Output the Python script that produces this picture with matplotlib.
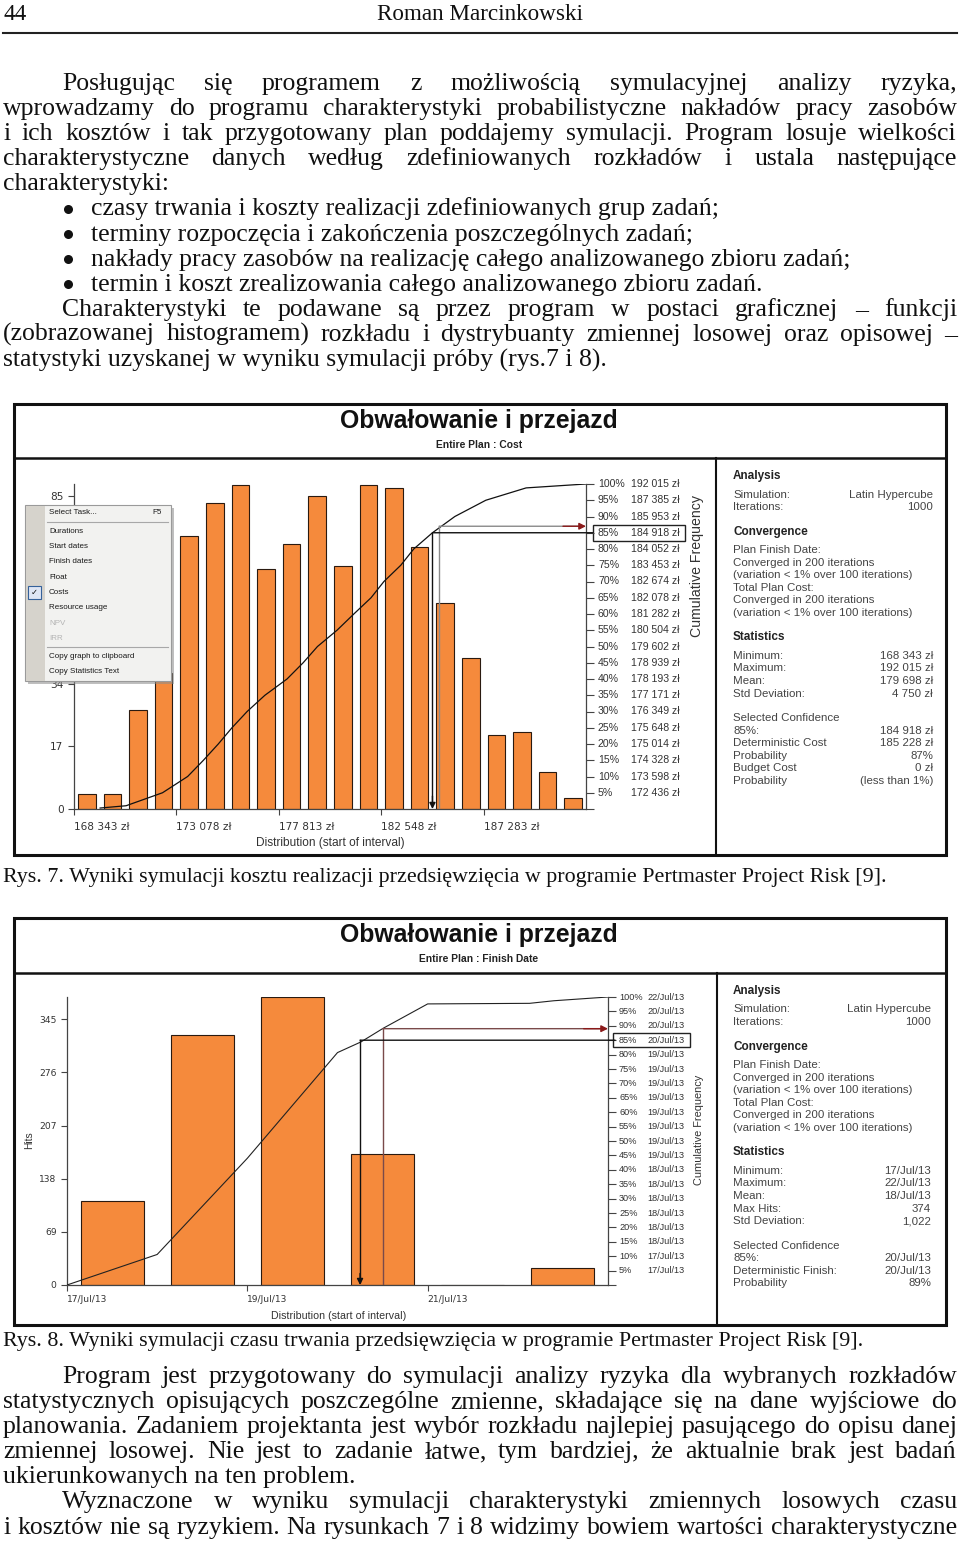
import numpy as np
import matplotlib
matplotlib.use("Agg")
import matplotlib.pyplot as plt
from matplotlib.patches import Rectangle
from matplotlib.transforms import blended_transform_factory

W, H = 960, 1542
SERIF = "Liberation Serif"
SANS = "Liberation Sans"
ORANGE = "#f58a3c"
INK = "#333333"

# ---------------- dane: rys. 7 (koszt) ----------------
cost_ticks = [168343, 173078, 177813, 182548, 187283]
cost_hits = [4, 4, 27, 37, 74, 83, 88, 65, 72, 85, 66, 88, 87, 71, 56, 41, 20, 21, 10, 3]
cost_yticks = [0, 17, 34, 51, 68, 85]
cost_hidden = [51, 68]  # etykiety zasłonięte przez menu
cost_pct = [100, 95, 90, 85, 80, 75, 70, 65, 60, 55, 50, 45, 40, 35, 30, 25, 20, 15, 10, 5]
cost_pct_val = [192015, 187385, 185953, 184918, 184052, 183453, 182674, 182078, 181282, 180504,
                179602, 178939, 178193, 177171, 176349, 175648, 175014, 174328, 173598, 172436]
# krzywa dystrybuanty (koszt, %)
cost_curve_x = [169550, 170750, 172436, 173598, 174328, 175014, 175648, 176349, 177171, 178193,
                178939, 179602, 180504, 181282, 182078, 182674, 183453, 184052, 184918, 185953,
                187385, 189250, 192015]
cost_curve_y = [0.3, 1.0, 5, 10, 15, 20, 25, 30, 35, 40, 45, 50, 55, 60, 65, 70, 75, 80, 85, 90,
                95, 98.8, 100]
cost_conf, cost_conf_pct = 184918, 85
cost_det, cost_det_pct = 185228, 87

# ---------------- dane: rys. 8 (termin) ----------------
finish_days = ["17/Jul/13", "18/Jul/13", "19/Jul/13", "20/Jul/13", "21/Jul/13", "22/Jul/13"]
finish_hits = [109, 325, 374, 170, 0, 22]
finish_yticks = [0, 69, 138, 207, 276, 345]
finish_pct = cost_pct
finish_pct_val = ["22/Jul/13", "20/Jul/13", "20/Jul/13", "20/Jul/13", "19/Jul/13", "19/Jul/13",
                  "19/Jul/13", "19/Jul/13", "19/Jul/13", "19/Jul/13", "19/Jul/13", "19/Jul/13",
                  "18/Jul/13", "18/Jul/13", "18/Jul/13", "18/Jul/13", "18/Jul/13", "18/Jul/13",
                  "17/Jul/13", "17/Jul/13"]
finish_curve_x = [0, 1.0, 2.0, 3.0, 3.26, 3.51, 4.0, 5.13, 5.4, 6.0]
finish_curve_y = [0, 10.6, 44, 80.7, 84.4, 89.2, 97.6, 97.8, 98.7, 100]
finish_conf, finish_conf_pct = 3.25, 85
finish_det, finish_det_pct = 3.5, 89

conv_rows = [("Plan Finish Date:", ""), ("Converged in 200 iterations", ""),
             ("(variation < 1% over 100 iterations)", ""), ("Total Plan Cost:", ""),
             ("Converged in 200 iterations", ""), ("(variation < 1% over 100 iterations)", "")]
analysis_rows = [("Simulation:", "Latin Hypercube"), ("Iterations:", "1000")]
panel1 = [("Analysis", analysis_rows), ("Convergence", conv_rows),
          ("Statistics", [("Minimum:", "168 343 zł"), ("Maximum:", "192 015 zł"),
                          ("Mean:", "179 698 zł"), ("Std Deviation:", "4 750 zł")]),
          (None, [("Selected Confidence", ""), ("85%:", "184 918 zł"),
                  ("Deterministic Cost", "185 228 zł"), ("Probability", "87%"),
                  ("Budget Cost", "0 zł"), ("Probability", "(less than 1%)")])]
panel2 = [("Analysis", analysis_rows), ("Convergence", conv_rows),
          ("Statistics", [("Minimum:", "17/Jul/13"), ("Maximum:", "22/Jul/13"),
                          ("Mean:", "18/Jul/13"), ("Max Hits:", "374"),
                          ("Std Deviation:", "1,022")]),
          (None, [("Selected Confidence", ""), ("85%:", "20/Jul/13"),
                  ("Deterministic Finish:", "20/Jul/13"), ("Probability", "89%")])]

menu_items = ["Select Task...", None, "Durations", "Start dates", "Finish dates", "Float",
              "Costs", "Resource usage", "NPV", "IRR", None, "Copy graph to clipboard",
              "Copy Statistics Text"]

para1 = ["Posługując się programem z możliwością symulacyjnej analizy ryzyka,",
         "wprowadzamy do programu charakterystyki probabilistyczne nakładów pracy zasobów",
         "i ich kosztów i tak przygotowany plan poddajemy symulacji. Program losuje wielkości",
         "charakterystyczne danych według zdefiniowanych rozkładów i ustala następujące",
         "charakterystyki:"]
bullets = ["czasy trwania i koszty realizacji zdefiniowanych grup zadań;",
           "terminy rozpoczęcia i zakończenia poszczególnych zadań;",
           "nakłady pracy zasobów na realizację całego analizowanego zbioru zadań;",
           "termin i koszt zrealizowania całego analizowanego zbioru zadań."]
para2 = ["Charakterystyki te podawane są przez program w postaci graficznej – funkcji",
         "(zobrazowanej histogramem) rozkładu i dystrybuanty zmiennej losowej oraz opisowej –",
         "statystyki uzyskanej w wyniku symulacji próby (rys.7 i 8)."]
para3 = ["Program jest przygotowany do symulacji analizy ryzyka dla wybranych rozkładów",
         "statystycznych opisujących poszczególne zmienne, składające się na dane wyjściowe do",
         "planowania. Zadaniem projektanta jest wybór rozkładu najlepiej pasującego do opisu danej",
         "zmiennej losowej. Nie jest to zadanie łatwe, tym bardziej, że aktualnie brak jest badań",
         "ukierunkowanych na ten problem."]
para4 = ["Wyznaczone w wyniku symulacji charakterystyki zmiennych losowych czasu",
         "i kosztów nie są ryzykiem. Na rysunkach 7 i 8 widzimy bowiem wartości charakterystyczne"]
cap7 = "Rys. 7. Wyniki symulacji kosztu realizacji przedsięwzięcia w programie Pertmaster Project Risk [9]."
cap8 = "Rys. 8. Wyniki symulacji czasu trwania przedsięwzięcia w programie Pertmaster Project Risk [9]."

fig = plt.figure(figsize=(W / 100, H / 100), dpi=100)
page = fig.add_axes([0, 0, 1, 1])
page.set_xlim(0, W)
page.set_ylim(H, 0)
page.axis("off")
R = fig.canvas.get_renderer()


def px_axes(x0, y0, x1, y1, z=2):
    a = fig.add_axes([x0 / W, 1 - y1 / H, (x1 - x0) / W, (y1 - y0) / H], zorder=z)
    a.set_facecolor("none")
    return a


def width_of(s, size, family, weight="normal"):
    t = page.text(0, 0, s, fontsize=size, family=family, weight=weight)
    w = t.get_window_extent(R).width
    t.remove()
    return w


def fit_size(s, width, family, weight="normal"):
    return 10 * width / width_of(s, 10, family, weight)


def line(s, x0, y, size, x1=None):
    if x1 is None:
        page.text(x0, y, s, fontsize=size, family=SERIF, va="baseline", color="#111")
        return
    words = s.split(" ")
    ts = [page.text(0, y, w, fontsize=size, family=SERIF, va="baseline", color="#111")
          for w in words]
    ws = [t.get_window_extent(R).width for t in ts]
    gap = (x1 - x0 - sum(ws)) / (len(words) - 1)
    if gap < 3:
        size2 = size * (x1 - x0 - 3 * (len(words) - 1)) / sum(ws)
        for t in ts:
            t.set_fontsize(size2)
        ws = [t.get_window_extent(R).width for t in ts]
        gap = (x1 - x0 - sum(ws)) / (len(words) - 1)
    x = x0
    for t, w in zip(ts, ws):
        t.set_x(x)
        x += w + gap


# ---------------- tekst strony ----------------
hsize = fit_size("Roman Marcinkowski", 207, SERIF)
page.text(3, 20, "44", fontsize=hsize, family=SERIF, va="baseline", color="#111")
page.text(480, 20, "Roman Marcinkowski", fontsize=hsize, family=SERIF, va="baseline",
          ha="center", color="#111")
page.plot([3, 957], [33, 33], color="#222", lw=1.5)

body = fit_size(bullets[0], 630, SERIF)
step = 25.1
y = 90
for i, s in enumerate(para1):
    x0 = 62 if i == 0 else 3
    line(s, x0, y, body, None if i == len(para1) - 1 else 957)
    y += step
for s in bullets:
    page.plot([68], [y - 6.5], "o", color="#111", ms=6.5, mew=0)
    line(s, 91, y, body)
    y += step
for i, s in enumerate(para2):
    x0 = 62 if i == 0 else 3
    line(s, x0, y, body, None if i == len(para2) - 1 else 957)
    y += step

csize = fit_size(cap7, 887, SERIF)
page.text(3, 882, cap7, fontsize=csize, family=SERIF, va="baseline", color="#111")
page.text(3, 1346, cap8, fontsize=csize, family=SERIF, va="baseline", color="#111")

y = 1383
for i, s in enumerate(para3):
    x0 = 62 if i == 0 else 3
    line(s, x0, y, body, None if i == len(para3) - 1 else 957)
    y += step
for i, s in enumerate(para4):
    x0 = 62 if i == 0 else 3
    line(s, x0, y, body, 957)
    y += step


# ---------------- ramki wykresów ----------------
def frame(top, sep, bottom, vx, title, sub, tsize):
    page.add_patch(Rectangle((14, top), 932, bottom - top, fill=False, ec="#111", lw=2.2))
    page.plot([14, 946], [sep, sep], color="#111", lw=1.8)
    page.plot([vx, vx], [sep, bottom], color="#111", lw=1.5)
    page.text(479, top + 17, title, fontsize=tsize, family=SANS, weight="bold",
              ha="center", va="center", color="#111")
    page.text(479, top + 41, sub, fontsize=7.4, family=SANS, weight="bold",
              ha="center", va="center", color="#222")


tsize = fit_size("Obwałowanie i przejazd", 278, SANS, "bold")
frame(404, 458, 855, 716, "Obwałowanie i przejazd", "Entire Plan : Cost", tsize)
frame(918, 973, 1325, 717, "Obwałowanie i przejazd", "Entire Plan : Finish Date", tsize)


def panel(sections, x0, x1, y0, size):
    y = y0
    for k, (head, rows) in enumerate(sections):
        if head is not None:
            page.text(x0, y, head, fontsize=size * 1.03, family=SANS, weight="bold",
                      va="center", color="#222")
            y += 18.5
        for lft, rgt in rows:
            page.text(x0, y, lft, fontsize=size, family=SANS, va="center", color="#444")
            if rgt:
                page.text(x1, y, rgt, fontsize=size, family=SANS, va="center", ha="right",
                          color="#444")
            y += 12.55
        y += 12


psize = fit_size("(variation < 1% over 100 iterations)", 179, SANS)
panel(panel1, 733, 933, 476, psize)
panel(panel2, 733, 931, 991, psize)


def style_axes(ax, ax2, tsize):
    for sp in ["top", "right"]:
        ax.spines[sp].set_visible(False)
    for sp in ["left", "bottom"]:
        ax.spines[sp].set_color("#444")
        ax.spines[sp].set_linewidth(0.9)
    for sp in ["top", "left", "bottom"]:
        ax2.spines[sp].set_visible(False)
    ax2.spines["right"].set_color("#444")
    ax2.spines["right"].set_linewidth(0.9)
    ax.tick_params(axis="both", colors="#444", labelcolor=INK, labelsize=tsize,
                   length=4, width=0.8, direction="out")
    ax2.set_ylim(0, 100)
    ax2.set_yticks(np.arange(0, 101, 5))
    ax2.set_yticklabels([])
    ax2.tick_params(axis="y", colors="#444", length=6, width=0.8, direction="out")
    for lbl in ax.get_xticklabels():
        lbl.set_ha("left")


def markers(ax2, conf, conf_pct, det, det_pct, det_color):
    trans = blended_transform_factory(ax2.transAxes, ax2.transData)
    ax2.plot([conf, conf], [conf_pct, 1.2], color="#111", lw=1.0)
    ax2.annotate("", xy=(conf, 0), xytext=(conf, 4), arrowprops=dict(
        arrowstyle="-|>", color="#111", lw=1.0, mutation_scale=9, shrinkA=0, shrinkB=0))
    ax2.annotate("", xy=(1.013, conf_pct), xycoords=trans, xytext=(conf, conf_pct),
                 textcoords="data", arrowprops=dict(arrowstyle="-", color="#111", lw=1.0,
                                                    shrinkA=0, shrinkB=0))
    ax2.plot([det, det], [0, det_pct], color=det_color, lw=1.0)
    ax2.annotate("", xy=(0.985, det_pct), xycoords=trans, xytext=(det, det_pct),
                 textcoords="data", arrowprops=dict(arrowstyle="-", color=det_color, lw=1.0,
                                                    shrinkA=0, shrinkB=0))
    ax2.annotate("", xy=(1.0, det_pct), xycoords=trans, xytext=(0.955, det_pct),
                 textcoords=trans, arrowprops=dict(arrowstyle="-|>", color="#8b1a1a",
                                                   lw=1.0, mutation_scale=10,
                                                   shrinkA=0, shrinkB=0))


def table(ax2, pcts, vals, off1, off2, size, box_x, box_w):
    trans = blended_transform_factory(ax2.transAxes, ax2.transData)
    for p, v in zip(pcts, vals):
        ax2.annotate(f"{p}%", xy=(1, p), xycoords=trans, xytext=(off1, 0),
                     textcoords="offset pixels", va="center", ha="left", fontsize=size,
                     family=SANS, color=INK, annotation_clip=False)
        ax2.annotate(v, xy=(1, p), xycoords=trans, xytext=(off2, 0),
                     textcoords="offset pixels", va="center", ha="left", fontsize=size,
                     family=SANS, color=INK, annotation_clip=False)
    ax2.add_patch(Rectangle((box_x, 85 - 2.45), box_w, 4.9, transform=trans, fill=False,
                            ec="#222", lw=1.0, clip_on=False))


# ---------------- wykres 1: koszt ----------------
ax = px_axes(74, 484, 586, 809)
bin_w = (cost_ticks[1] - cost_ticks[0]) / 4
starts = cost_ticks[0] + bin_w * np.arange(len(cost_hits))
ax.bar(starts + bin_w / 2, cost_hits, width=bin_w * 0.68, color=ORANGE,
       edgecolor="#2a1a10", linewidth=0.8)
ax.set_xlim(cost_ticks[0], cost_ticks[0] + bin_w * len(cost_hits))
ax.set_ylim(0, 88.2)
ax.set_yticks(cost_yticks)
ax.set_yticklabels(["" if v in cost_hidden else str(v) for v in cost_yticks])
ax.set_xticks(cost_ticks)
ax.set_xticklabels([f"{v:,} zł".replace(",", " ") for v in cost_ticks])
ax2 = ax.twinx()
ax2.set_facecolor("none")
style_axes(ax, ax2, 7.6)
ax.tick_params(axis="x", pad=5)
ax2.plot(cost_curve_x, cost_curve_y, color="#111", lw=0.9)
markers(ax2, cost_conf, cost_conf_pct, cost_det, cost_det_pct, "#8a8a8a")
table(ax2, cost_pct, [f"{v:,} zł".replace(",", " ") for v in cost_pct_val],
      12, 45, 7.6, 1.013, 0.18)
page.text(330, 843, "Distribution (start of interval)", fontsize=8.6, family=SANS,
          ha="center", va="center", color=INK)
page.text(697, 566, "Cumulative Frequency", fontsize=10.2, family=SANS, rotation=90,
          ha="center", va="center", color=INK)

# ---------------- wykres 2: termin ----------------
bx = px_axes(67, 997, 608, 1285)
days = np.arange(len(finish_hits))
bx.bar(days + 0.5, finish_hits, width=0.7, color=ORANGE, edgecolor="#2a1a10", linewidth=0.8)
bx.set_xlim(0, len(finish_hits))
bx.set_ylim(0, 374)
bx.set_yticks(finish_yticks)
bx.set_xticks(days[::2])
bx.set_xticklabels(finish_days[::2])
bx2 = bx.twinx()
bx2.set_facecolor("none")
style_axes(bx, bx2, 6.6)
bx.tick_params(axis="x", pad=3)
bx2.plot(finish_curve_x, finish_curve_y, color="#222", lw=0.8)
markers(bx2, finish_conf, finish_conf_pct, finish_det, finish_det_pct, "#7a4a4a")
table(bx2, finish_pct, finish_pct_val, 11, 39, 6.6, 1.009, 0.142)
page.text(339, 1316, "Distribution (start of interval)", fontsize=7.7, family=SANS,
          ha="center", va="center", color=INK)
page.text(699, 1130, "Cumulative Frequency", fontsize=7.9, family=SANS, rotation=90,
          ha="center", va="center", color=INK)
page.text(29, 1140, "Hits", fontsize=7.4, family=SANS, rotation=90,
          ha="center", va="center", color=INK)

# ---------------- menu kontekstowe ----------------
top = fig.add_axes([0, 0, 1, 1], zorder=30)
top.set_xlim(0, W)
top.set_ylim(H, 0)
top.axis("off")
top.patch.set_alpha(0)
top.add_patch(Rectangle((28, 508), 146, 176, color="#8c8c8c", alpha=0.55, lw=0))
top.add_patch(Rectangle((25, 505), 146, 176, fc="#f2f2f0", ec="#9a9a9a", lw=0.8))
top.add_patch(Rectangle((25.5, 505.5), 19, 175, fc="#d6d3cc", ec="none"))
my = 513
for item in menu_items:
    if item is None:
        top.plot([47, 168], [my - 6.5, my - 6.5], color="#a8a8a8", lw=0.8)
        my += 3
        continue
    col = "#b4b4b4" if item in ("NPV", "IRR") else "#1a1a1a"
    top.text(49, my, item, fontsize=5.8, family=SANS, va="center", color=col)
    if item == "Select Task...":
        top.text(152, my, "F5", fontsize=5.8, family=SANS, va="center", color="#1a1a1a")
    if item == "Costs":
        top.add_patch(Rectangle((28, my - 6.5), 13, 13, fc="#dfe6f4", ec="#35619a", lw=0.8))
        top.text(34.5, my, "✓", fontsize=6, family=["DejaVu Sans"], ha="center",
                 va="center", color="#111")
    my += 15.3

fig.savefig("out.png", dpi=100)
